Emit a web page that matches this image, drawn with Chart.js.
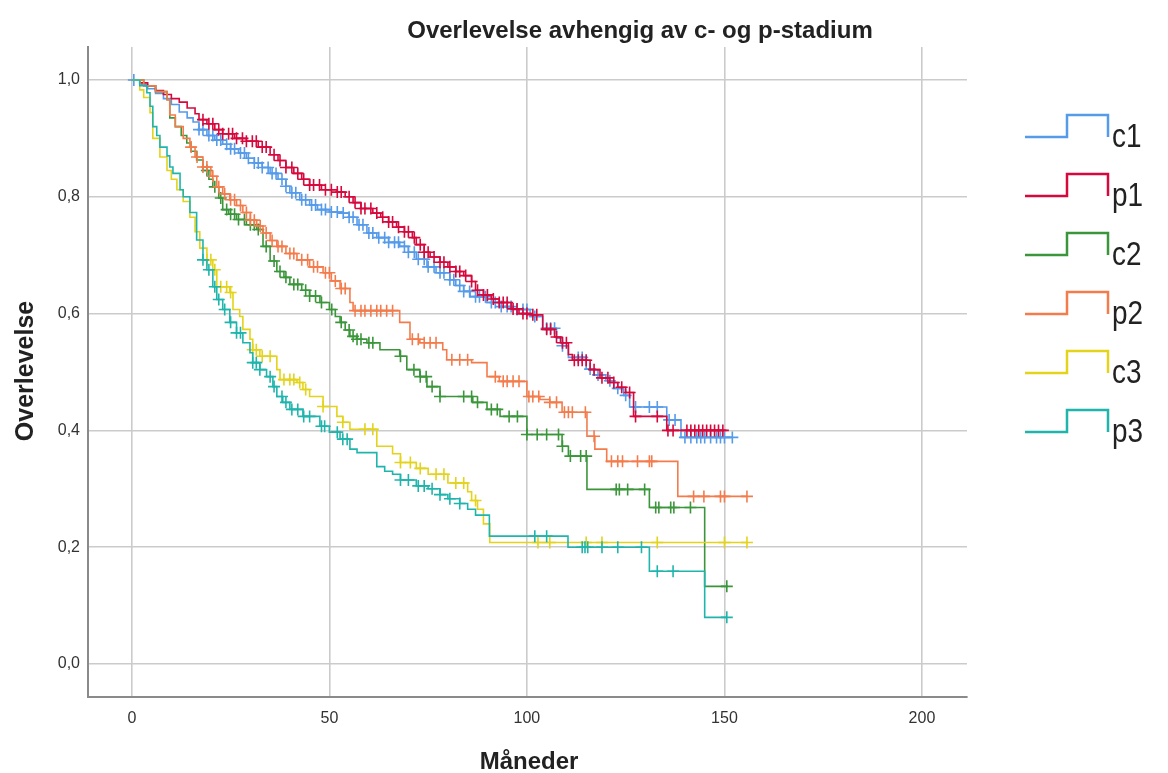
<!DOCTYPE html>
<html>
<head>
<meta charset="utf-8">
<script src="https://cdn.jsdelivr.net/npm/chart.js@4"></script>
<style>
  html, body { margin: 0; padding: 0; background: #fff; }
</style>
</head>
<body>
<canvas id="kmChart" width="1168" height="773"></canvas>
<script>
// Kaplan-Meier: overlevelse etter c- og p-stadium
const seriesNames = ['c1', 'p1', 'c2', 'p2', 'c3', 'p3'];
const seriesColors = ['#559bea', '#d6083c', '#3b963b', '#f47c4c', '#e3d31b', '#1fb5ad'];
const xTicks = [0, 50, 100, 150, 200];
const yTicks = [0, 0.2, 0.4, 0.6, 0.8, 1.0];

// step points (months, survival) and censoring times
const c1T = [0, 2, 4, 6, 8, 10, 12, 14, 15.5, 17, 19, 21, 23, 25, 27, 29, 31, 33, 35, 37, 39, 40, 42.5, 45, 47, 50, 53, 55, 57, 59.5, 62, 65, 67.8, 70, 72, 74.7, 77, 80.5, 82, 84, 85.6, 89.9, 93, 96.5, 100.8, 104, 107.5, 109, 110.5, 115, 117, 120, 122, 124.5, 126, 135.4, 139, 152];
const c1S = [1, 0.992, 0.985, 0.977, 0.968, 0.958, 0.945, 0.935, 0.928, 0.915, 0.905, 0.897, 0.89, 0.882, 0.875, 0.866, 0.858, 0.85, 0.84, 0.83, 0.818, 0.807, 0.795, 0.786, 0.778, 0.774, 0.772, 0.765, 0.752, 0.738, 0.73, 0.722, 0.715, 0.705, 0.693, 0.68, 0.67, 0.658, 0.648, 0.638, 0.629, 0.619, 0.612, 0.607, 0.595, 0.575, 0.558, 0.545, 0.525, 0.505, 0.495, 0.485, 0.472, 0.46, 0.44, 0.418, 0.388, 0.388];
const c1Cens = [0.5, 17, 18, 19.5, 20.5, 21.5, 22.5, 24, 25, 26, 27.5, 28.5, 29.5, 31, 32, 33, 34.5, 35.5, 36.5, 38, 39, 40.5, 41.5, 43, 44, 45.5, 46.5, 48, 49, 50.5, 52, 53.5, 55, 56, 57.5, 58.5, 60, 61, 62.5, 64, 65, 66.5, 67.5, 69, 70, 71.5, 72.5, 74, 75, 76.5, 78, 79, 80.5, 81.5, 83, 84, 85.5, 87, 88, 89.5, 91, 92, 93.5, 95, 96, 97.5, 99, 100, 102, 105, 106, 107, 109, 113, 114, 116, 118, 121, 123, 125, 127.5, 131, 133, 136, 137.5, 140, 141.5, 143, 144, 145, 146.5, 148, 149, 150, 152];

const p1T = [0, 2, 4, 6, 8, 10, 12, 14, 16, 17, 19, 21, 23, 26, 29, 32, 35, 37, 39, 41, 43, 45, 48, 52, 54, 56, 58, 61, 63, 65, 67, 69, 71, 72, 74, 75.5, 78, 80, 82, 84, 86, 87, 89, 91, 93, 96, 98, 101, 104, 107, 108.5, 110.5, 111.5, 116, 118.5, 121, 123, 125, 127, 135.4, 150.5];
const p1S = [1, 0.995, 0.99, 0.982, 0.975, 0.968, 0.962, 0.952, 0.942, 0.932, 0.925, 0.915, 0.908, 0.9, 0.895, 0.885, 0.872, 0.862, 0.85, 0.84, 0.83, 0.82, 0.812, 0.808, 0.8, 0.79, 0.78, 0.772, 0.765, 0.757, 0.748, 0.74, 0.73, 0.718, 0.705, 0.697, 0.688, 0.68, 0.672, 0.665, 0.655, 0.64, 0.632, 0.625, 0.619, 0.608, 0.6, 0.598, 0.573, 0.56, 0.55, 0.53, 0.52, 0.504, 0.49, 0.482, 0.474, 0.465, 0.424, 0.4, 0.4];
const p1Cens = [18, 19.5, 20.5, 22, 23, 24.5, 25.5, 26.5, 28, 29, 30.5, 31.5, 33, 34, 36, 37.5, 39, 40.5, 42, 43.5, 45, 46, 47.5, 49, 50.5, 52, 53, 55, 56.5, 58, 59, 60.5, 62, 63.5, 65, 66, 67.5, 69, 70, 71.5, 73, 74, 75, 76.5, 78, 79, 80.5, 82, 83, 84.5, 86, 87.5, 89, 90, 91.5, 93, 94, 95, 96.5, 97.5, 99, 100, 101.5, 102.5, 105, 106, 107.5, 109, 110, 112, 113, 114, 115, 117, 119, 120.5, 122, 124, 126, 127.5, 133, 135.7, 137, 140.5, 141.5, 142.5, 143.5, 144.5, 145.5, 146.5, 147.5, 148.5, 149.6];

const c2T = [0, 3, 6, 8.9, 9.6, 11, 12.5, 13.9, 15, 16.4, 18, 19.5, 20.5, 22, 23, 24.5, 26.5, 29, 31.6, 33.2, 35, 36.7, 38.5, 40, 43, 45, 47.6, 50, 51.5, 52.7, 54, 55.2, 57, 59.5, 62.8, 67.8, 69.6, 72.9, 74.7, 78, 86.3, 89.9, 93.2, 100, 108.9, 110.5, 115.2, 131, 145, 150.9];
const c2S = [1, 0.99, 0.98, 0.966, 0.935, 0.92, 0.905, 0.892, 0.878, 0.863, 0.845, 0.83, 0.817, 0.798, 0.778, 0.77, 0.761, 0.752, 0.744, 0.715, 0.69, 0.672, 0.662, 0.65, 0.64, 0.63, 0.619, 0.607, 0.595, 0.585, 0.572, 0.561, 0.556, 0.55, 0.538, 0.527, 0.504, 0.492, 0.475, 0.458, 0.448, 0.436, 0.424, 0.393, 0.373, 0.356, 0.299, 0.268, 0.133, 0.133];
const c2Cens = [19, 21, 22.5, 24, 25, 26, 27, 28.5, 30, 31, 32, 34, 36, 37.5, 39, 41, 42, 44, 45, 46.5, 48, 50.6, 53, 55, 56, 57, 58, 60, 61, 68, 71.4, 73, 74.5, 76, 78, 84, 86, 87.5, 91, 92.5, 95.5, 97.6, 100, 102.6, 105, 108, 109, 111, 113.6, 115, 122.6, 123.4, 125.5, 129.8, 132.6, 133.4, 136.4, 137.2, 141.4, 150.6];

const p2T = [0, 3, 6, 8.9, 9.6, 11, 13, 14.7, 16, 18, 20, 21.5, 23, 24.8, 26.5, 28.1, 30, 31.6, 33.2, 35, 36.7, 39, 41.8, 45, 48.4, 50.5, 52.7, 55.2, 56, 67.8, 70.4, 72.9, 78.7, 79.7, 86, 89.9, 93, 100, 103.3, 105.8, 108.9, 115.2, 117.2, 120.2, 138.2, 155.7];
const p2S = [1, 0.99, 0.98, 0.966, 0.94, 0.92, 0.9, 0.885, 0.868, 0.851, 0.835, 0.817, 0.805, 0.795, 0.785, 0.773, 0.76, 0.75, 0.738, 0.725, 0.715, 0.703, 0.692, 0.68, 0.67, 0.656, 0.643, 0.619, 0.605, 0.585, 0.556, 0.55, 0.538, 0.521, 0.516, 0.492, 0.484, 0.458, 0.453, 0.448, 0.431, 0.39, 0.368, 0.347, 0.287, 0.287];
const p2Cens = [15, 16.5, 18, 19, 20.5, 22, 23.5, 25, 26, 27.5, 29, 30, 31, 32.5, 34, 35.5, 37, 38, 40, 41, 43, 44.5, 46, 47, 49, 50, 51.5, 53, 54, 56.5, 58, 59, 60.5, 62, 63, 64.5, 66, 71, 72.5, 74, 75.5, 77, 81, 83, 85, 92, 94, 95, 96.5, 98, 100.5, 101.5, 103, 105.8, 107.5, 109.5, 110.5, 111.5, 114.8, 117, 121.4, 123, 124.2, 128, 131, 131.6, 142.2, 144.8, 149, 150, 155.7];

const c3T = [0, 2, 3, 4.6, 5.3, 7.1, 8.9, 10, 11.4, 13, 14.7, 16, 17.2, 19, 20.5, 21.5, 24.8, 25.6, 27.3, 28.1, 29.9, 30.6, 32.4, 36.7, 37.5, 41.8, 43.3, 45, 48.4, 51.9, 53.4, 55.2, 62, 66, 68, 72, 75, 80, 85, 86, 87.5, 89, 90.6, 156];
const c3S = [1, 0.983, 0.97, 0.944, 0.9, 0.868, 0.845, 0.83, 0.812, 0.792, 0.765, 0.74, 0.712, 0.692, 0.675, 0.646, 0.636, 0.607, 0.595, 0.573, 0.556, 0.538, 0.527, 0.504, 0.487, 0.482, 0.47, 0.458, 0.441, 0.424, 0.414, 0.402, 0.373, 0.36, 0.345, 0.335, 0.325, 0.31, 0.295, 0.28, 0.265, 0.24, 0.208, 0.208];
const c3Cens = [19, 20, 21, 22.5, 24, 25, 30.6, 31.5, 33, 35, 38.5, 40, 41, 42.5, 44, 48.4, 53.4, 59, 61, 68, 70.5, 73, 77, 79, 82, 84, 87, 102.8, 105.8, 115, 119, 133, 150, 155.7];

const p3T = [0, 2, 3.8, 4.6, 5.3, 6.3, 7.1, 8.9, 9.6, 10.4, 12.2, 13, 14.7, 16.4, 18, 19, 20.5, 21.5, 23, 24.8, 26.5, 28.1, 29.9, 30.6, 32.4, 34.1, 35.7, 36.7, 38.2, 40, 43.3, 47.6, 50, 52.7, 55.2, 57, 62, 64, 66, 68, 72, 75, 78, 80, 83, 85, 87, 90.5, 110.4, 131, 145, 150.6];
const p3S = [1, 0.99, 0.978, 0.955, 0.92, 0.905, 0.885, 0.87, 0.851, 0.84, 0.812, 0.8, 0.773, 0.726, 0.692, 0.675, 0.646, 0.624, 0.607, 0.585, 0.567, 0.55, 0.533, 0.516, 0.504, 0.492, 0.475, 0.458, 0.448, 0.436, 0.424, 0.407, 0.397, 0.385, 0.368, 0.362, 0.338, 0.33, 0.325, 0.315, 0.305, 0.3, 0.29, 0.283, 0.275, 0.265, 0.255, 0.219, 0.2, 0.159, 0.08, 0.08];
const p3Cens = [18, 19.5, 21, 22, 23.5, 25, 26.5, 27.5, 30.6, 31.5, 32.4, 35, 36, 38, 39, 40.5, 42, 43.5, 45, 48, 48.8, 52, 53.4, 54.5, 68, 70, 72.5, 74, 76, 78, 80.5, 83, 102, 105, 114, 114.7, 115.4, 119, 123, 129, 133, 137, 150.6];

const allT = [c1T, p1T, c2T, p2T, c3T, p3T];
const allS = [c1S, p1S, c2S, p2S, c3S, p3S];
const allCens = [c1Cens, p1Cens, c2Cens, p2Cens, c3Cens, p3Cens];

const FONT = '"Liberation Sans", Arial, sans-serif';

// survival value of a step curve at time t
function stepValue(T, S, t) {
  let v = S[0];
  for (let i = 0; i < T.length; i++) {
    if (T[i] <= t) v = S[i]; else break;
  }
  return v;
}

const datasets = [];
seriesNames.forEach((name, i) => {
  const T = allT[i], S = allS[i];
  datasets.push({
    label: name,
    data: T.map((t, k) => ({ x: t, y: S[k] })),
    borderColor: seriesColors[i],
    borderWidth: 1.6,
    stepped: 'before',
    pointRadius: 0,
    fill: false,
    order: 20 - 2 * i
  });
  datasets.push({
    label: name + ' sensurert',
    data: allCens[i].map(t => ({ x: t, y: stepValue(T, S, t) })),
    showLine: false,
    pointStyle: 'cross',
    pointRadius: 6,
    pointBorderWidth: 1.6,
    borderColor: seriesColors[i],
    backgroundColor: seriesColors[i],
    order: 19 - 2 * i
  });
});

const textPlugin = {
  id: 'kmText',
  afterDraw(chart) {
    const ctx = chart.ctx;
    ctx.save();
    ctx.fillStyle = '#222';
    // title
    ctx.font = 'bold 24px ' + FONT;
    ctx.textAlign = 'center';
    ctx.textBaseline = 'alphabetic';
    ctx.fillText('Overlevelse avhengig av c- og p-stadium', 640, 38);
    // axis titles
    ctx.font = 'bold 24px ' + FONT;
    ctx.fillText('Måneder', 529, 769);
    ctx.save();
    ctx.translate(33, 371);
    ctx.rotate(-Math.PI / 2);
    ctx.font = 'bold 25px ' + FONT;
    ctx.fillText('Overlevelse', 0, 0);
    ctx.restore();
    // legend with step icons
    seriesNames.forEach((name, i) => {
      const top = 115 + i * 59, bot = top + 22;
      ctx.strokeStyle = seriesColors[i];
      ctx.lineWidth = 2.5;
      ctx.beginPath();
      ctx.moveTo(1025, bot);
      ctx.lineTo(1067, bot);
      ctx.lineTo(1067, top);
      ctx.lineTo(1108, top);
      ctx.lineTo(1108, bot);
      ctx.stroke();
      ctx.save();
      ctx.translate(1112, bot + 10);
      ctx.scale(0.82, 1);
      ctx.fillStyle = '#222';
      ctx.font = '34px ' + FONT;
      ctx.textAlign = 'left';
      ctx.fillText(name, 0, 0);
      ctx.restore();
    });
    ctx.restore();
  }
};

new Chart(document.getElementById('kmChart').getContext('2d'), {
  type: 'line',
  data: { datasets: datasets },
  options: {
    responsive: false,
    animation: false,
    layout: { padding: { top: 47, right: 201, left: 0, bottom: 0 } },
    plugins: {
      legend: { display: false },
      tooltip: { enabled: false },
      title: { display: false }
    },
    scales: {
      x: {
        type: 'linear',
        min: -11.1,
        max: 211.4,
        afterBuildTicks: ax => { ax.ticks = xTicks.map(v => ({ value: v })); },
        afterFit: ax => { ax.height = 76; },
        grid: { color: '#cbcbcb', lineWidth: 1.6, drawTicks: false },
        border: { color: '#8a8a8a', width: 2 },
        ticks: { padding: 12, color: '#333', maxRotation: 0, font: { family: FONT, size: 16 } }
      },
      y: {
        type: 'linear',
        min: -0.0564,
        max: 1.0564,
        afterBuildTicks: ax => { ax.ticks = yTicks.map(v => ({ value: v })); },
        afterFit: ax => { ax.width = 88; },
        grid: { color: '#cbcbcb', lineWidth: 1.6, drawTicks: false },
        border: { color: '#8a8a8a', width: 2 },
        ticks: {
          padding: 8, color: '#333', font: { family: FONT, size: 16 },
          callback: v => v.toFixed(1).replace('.', ',')
        }
      }
    }
  },
  plugins: [textPlugin]
});
</script>
</body>
</html>
